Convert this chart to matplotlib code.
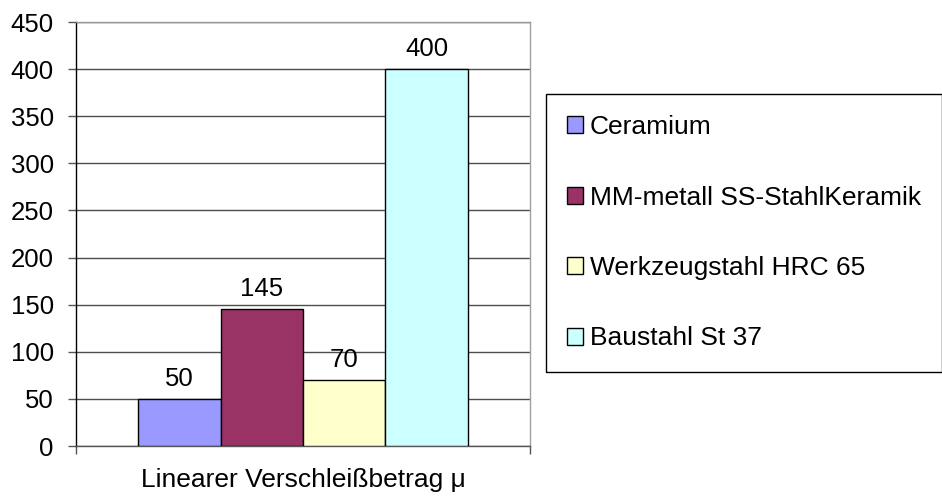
import matplotlib.pyplot as plt
import numpy as np

plt.rcParams['font.family'] = ['Liberation Sans', 'DejaVu Sans']

# values
materials = ["Ceramium", "MM-metall SS-StahlKeramik", "Werkzeugstahl HRC 65", "Baustahl St 37"]
wear = [50, 145, 70, 400]
colors = ["#9999FF", "#993366", "#FFFFCC", "#CCFFFF"]
category = "Linearer Verschleißbetrag μ"
yticks = [0, 50, 100, 150, 200, 250, 300, 350, 400, 450]

fig = plt.figure(figsize=(9.42, 4.99), dpi=100)
ax = fig.add_axes([76/942, 53/499, 454/942, 424/499])

w = 0.1817
n = len(wear)
offsets = (np.arange(n) - (n - 1) / 2) * w
for off, val, col, name in zip(offsets, wear, colors, materials):
    ax.bar(off, val, width=w, color=col, edgecolor="black", linewidth=1, label=name, zorder=3)
    ax.annotate(str(val), (off, val), xytext=(0, 6), textcoords="offset points",
                ha="center", va="bottom", fontsize=18.5)

ax.set_xlim(-0.5, 0.5)
ax.set_ylim(0, 450)
ax.set_yticks(yticks)
ax.yaxis.grid(True, color="#4d4d4d", linewidth=1, zorder=0)
ax.tick_params(axis="y", length=6, width=1, color="#555555", labelsize=18.5, pad=10)

ax.set_xticks([-0.5, 0.5], labels=["", ""])
ax.tick_params(axis="x", which="major", length=6, width=1, color="#555555")
ax.set_xticks([0], labels=[category], minor=True)
ax.tick_params(axis="x", which="minor", length=0, labelsize=19, pad=16)

ax.spines["left"].set_color("black")
ax.spines["bottom"].set_color("#555555")
ax.spines["right"].set_color("#a0a0a0")
ax.spines["top"].set_color("#999999")
for s in ax.spines.values():
    s.set_linewidth(1)

leg = fig.legend(loc="upper left", bbox_to_anchor=(546/942, 1 - 94/499), fontsize=19,
                 frameon=True, fancybox=False, edgecolor="black", framealpha=1,
                 handlelength=0.62, handleheight=0.62, handletextpad=0.25,
                 labelspacing=1.76, borderpad=0.8, borderaxespad=0)
leg.get_frame().set_linewidth(1)

fig.savefig("out.png", dpi=100)
